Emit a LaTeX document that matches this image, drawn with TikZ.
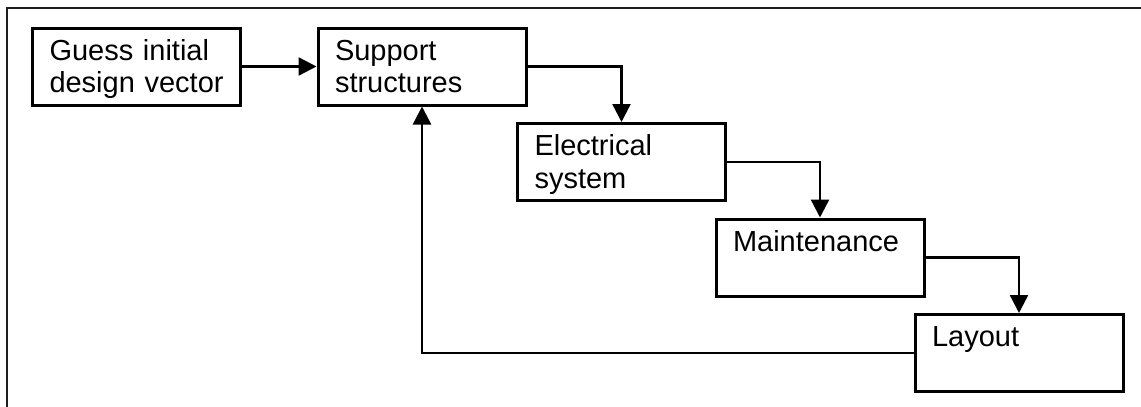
\documentclass[tikz,border=0pt]{standalone}
\usepackage{fontspec}
\setmainfont{Liberation Sans}
\usetikzlibrary{arrows.meta}
\definecolor{framegray}{RGB}{30,30,30}

\begin{document}
\begin{tikzpicture}[x=0.5pt,y=-0.5pt,
    stagebox/.style={draw,line width=1.5pt,inner xsep=8.5pt,inner ysep=0pt,
      text width=87pt,align=left,text height=16pt,text depth=22.5pt,
      font=\fontsize{14.5}{16.5}\selectfont},
    flow/.style={line width=1.2pt,-{Triangle[length=9pt,width=9pt]}}]
  \useasboundingbox (0,0) rectangle (1141,407);
  % Outer frame, cut at the right and bottom edges
  \draw[framegray,line width=1pt] (7,407) -- (7,8) -- (1141,8);
  % Stages of the design loop
  \node[stagebox] (guess) at (136.5,66.5) {Guess initial\\\mbox{design vector}};
  \node[stagebox] (support) at (422,66.5) {Support\\structures};
  \node[stagebox] (electrical) at (621.5,162) {Electrical\\system};
  \node[stagebox] (maintenance) at (820,257.5) {Maintenance};
  \node[stagebox] (layout) at (1019,353) {Layout};
  % Connectors
  \draw[flow] (guess) -- (support);
  \draw[flow] (support.east) -| (electrical.north);
  \draw[flow] (electrical.east) -| (maintenance.north);
  \draw[flow] (maintenance.east) -| (layout.north);
  % Back to support structures
  \draw[flow] (layout.west) -| (support.south);
\end{tikzpicture}
\end{document}
